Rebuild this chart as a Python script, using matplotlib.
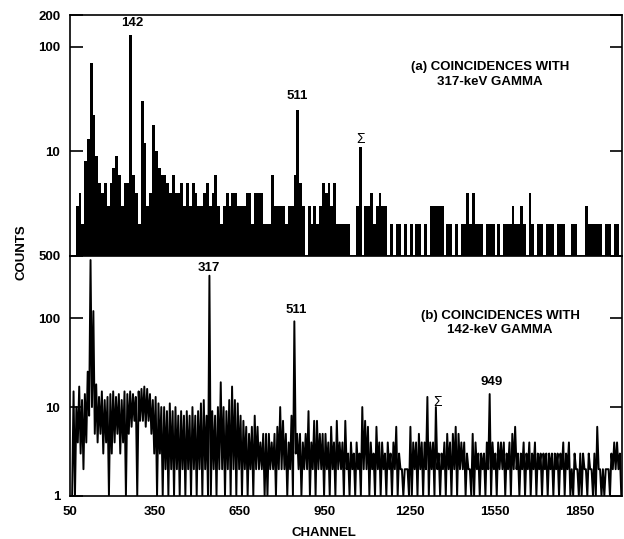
import numpy as np
import matplotlib.pyplot as plt

# change defaults for plotting
plt.rcParams['font.family'] = ['Liberation Sans', 'DejaVu Sans']
plt.rcParams['font.weight'] = 'bold'
plt.rcParams['font.size'] = 9.5
plt.rcParams['axes.linewidth'] = 1.2

# spectra in 10-channel bins, starting at channel 50
first_channel = 50
bin_width = 10

# (a) coincidences with the 317-keV gamma: count in each bin
counts_a = [1, 1, 3, 4, 2, 8, 13, 70, 22, 9,
            5, 4, 5, 3, 5, 7, 9, 6, 3, 5,
            5, 130, 6, 4, 2, 30, 12, 3, 4, 18,
            10, 7, 6, 6, 5, 4, 6, 4, 4, 5,
            3, 5, 3, 5, 4, 3, 3, 4, 5, 3,
            4, 6, 3, 2, 3, 4, 3, 4, 4, 3,
            3, 3, 4, 4, 2, 4, 4, 4, 2, 2,
            2, 6, 3, 3, 3, 3, 2, 3, 3, 6,
            25, 5, 3, 1, 3, 2, 3, 2, 3, 5,
            4, 5, 3, 5, 2, 2, 2, 2, 2, 1,
            1, 3, 11, 1, 3, 3, 4, 2, 3, 4,
            3, 3, 1, 2, 1, 2, 2, 1, 2, 1,
            2, 1, 2, 2, 1, 2, 1, 3, 3, 3,
            3, 3, 1, 2, 2, 1, 2, 1, 2, 2,
            4, 2, 4, 2, 2, 2, 1, 2, 2, 2,
            1, 2, 1, 2, 2, 2, 3, 2, 2, 3,
            2, 1, 4, 2, 1, 2, 2, 1, 2, 2,
            2, 1, 2, 2, 2, 1, 1, 2, 2, 1,
            1, 1, 3, 2, 2, 2, 2, 2, 1, 2,
            2, 1, 2, 2, 1]

# (b) coincidences with the 142-keV gamma: highest and lowest count in each bin
high_b = [1, 15, 10, 17, 12, 14, 25, 450, 120, 18,
          13, 15, 12, 13, 14, 15, 13, 14, 12, 15,
          14, 15, 14, 13, 15, 16, 17, 16, 14, 12,
          13, 11, 10, 10, 9, 11, 9, 10, 8, 9,
          8, 9, 8, 10, 8, 9, 11, 12, 8, 300,
          9, 8, 10, 19, 10, 9, 12, 17, 12, 11,
          8, 7, 6, 5, 6, 8, 6, 4, 5, 5,
          5, 4, 5, 6, 10, 7, 5, 4, 8, 92,
          5, 5, 4, 5, 9, 4, 7, 7, 5, 5,
          5, 4, 6, 4, 7, 4, 4, 7, 3, 4,
          3, 4, 3, 10, 7, 6, 4, 3, 6, 4,
          4, 3, 4, 3, 4, 6, 3, 2, 2, 2,
          6, 4, 4, 5, 4, 4, 13, 4, 4, 10,
          3, 3, 4, 5, 4, 5, 6, 5, 4, 4,
          3, 2, 5, 4, 3, 3, 3, 4, 14, 4,
          3, 4, 4, 4, 3, 4, 5, 6, 3, 3,
          4, 3, 4, 3, 4, 3, 3, 3, 3, 3,
          3, 3, 3, 3, 4, 3, 4, 2, 3, 2,
          3, 3, 2, 3, 2, 3, 6, 2, 2, 2,
          2, 3, 4, 4, 3]
low_b = [1, 1, 4, 3, 2, 4, 8, 10, 5, 4,
         5, 3, 4, 1, 3, 4, 5, 3, 4, 1,
         5, 6, 7, 1, 7, 7, 6, 7, 5, 3,
         1, 3, 1, 2, 1, 2, 1, 2, 1, 2,
         1, 2, 1, 2, 1, 2, 1, 2, 1, 1,
         2, 1, 2, 2, 1, 2, 1, 2, 1, 2,
         1, 2, 1, 2, 1, 2, 2, 2, 1, 1,
         2, 2, 1, 2, 2, 2, 1, 2, 1, 3,
         2, 1, 2, 2, 1, 2, 1, 2, 2, 1,
         2, 1, 2, 1, 2, 2, 1, 2, 1, 2,
         1, 2, 1, 2, 2, 1, 2, 1, 2, 1,
         2, 1, 2, 1, 2, 1, 2, 1, 2, 1,
         1, 2, 1, 2, 1, 2, 1, 2, 1, 2,
         1, 2, 1, 2, 1, 2, 1, 2, 2, 1,
         2, 1, 1, 2, 1, 2, 1, 2, 1, 2,
         1, 2, 2, 1, 2, 1, 2, 2, 1, 2,
         1, 2, 1, 2, 1, 2, 1, 2, 1, 2,
         1, 2, 1, 2, 1, 2, 1, 1, 2, 1,
         1, 2, 1, 2, 1, 1, 2, 1, 1, 2,
         1, 2, 2, 2, 1]

x_ticks = [50, 350, 650, 950, 1250, 1550, 1850]
y_ticks_a = [10, 100, 200]
y_ticks_b = [1, 10, 100, 500]

# peak labels: (text, channel, count)
labels_a = [('142', 269, 168), ('511', 852, 34)]
labels_b = [('317', 541, 362), ('511', 849, 122), ('949', 1541, 19)]
sum_a = (1075, 13)
sum_b = (1347, 11.4)


def setup_axis(ax, top, yticks):
    ax.set_yscale('log')
    ax.set_xlim(50, 2000)
    ax.set_ylim(1, top)
    ax.set_yticks(yticks)
    ax.set_yticklabels([str(t) for t in yticks])
    ax.minorticks_off()
    ax.set_xticks(x_ticks)
    ax.tick_params(axis='y', direction='in', length=9, width=1.2,
                   right=True, pad=7, labelsize=9.5)
    ax.tick_params(axis='x', length=0, pad=7, labelsize=9.5)


def bin_edges(n):
    return first_channel + bin_width*np.arange(n + 1)


fig = plt.figure(figsize=(6.24, 5.39), dpi=100)
ax_a = fig.add_axes([0.1122, 0.5250, 0.8846, 0.4471])
ax_b = fig.add_axes([0.1122, 0.0798, 0.8846, 0.4453])

# panel (a): histogram bars filled from the bottom
setup_axis(ax_a, 200, y_ticks_a)
ax_a.stairs(counts_a, bin_edges(len(counts_a)), baseline=1, fill=True,
            color='black', lw=0)
ax_a.set_xticklabels([])
for text, ch, c in labels_a:
    ax_a.text(ch, c, text, ha='center', va='center', fontsize=9.5)
ax_a.text(sum_a[0], sum_a[1], '\u03a3', ha='center', va='center',
          fontsize=10, fontweight='normal')
ax_a.text(0.761, 0.753, '(a) COINCIDENCES WITH\n317-keV GAMMA',
          transform=ax_a.transAxes, ha='center', va='center',
          multialignment='center', fontsize=9.5, linespacing=1.25)

# panel (b): one stroke up to the high and down to the low count per bin
setup_axis(ax_b, 500, y_ticks_b)
starts = bin_edges(len(high_b))[:-1]
xs = np.column_stack([starts + 2.5, starts + 7.5]).ravel()
ys = np.column_stack([high_b, low_b]).ravel()
ax_b.plot(xs, ys, color='black', lw=1.4)
ax_b.set_xticklabels([str(t) for t in x_ticks])
for text, ch, c in labels_b:
    ax_b.text(ch, c, text, ha='center', va='center', fontsize=9.5)
ax_b.text(sum_b[0], sum_b[1], '\u03a3', ha='center', va='center',
          fontsize=10, fontweight='normal')
ax_b.text(0.779, 0.72, '(b) COINCIDENCES WITH\n142-keV GAMMA',
          transform=ax_b.transAxes, ha='center', va='center',
          multialignment='center', fontsize=9.5, linespacing=1.25)

fig.text(0.519, 0.011, 'CHANNEL', ha='center', va='center', fontsize=9.5)
fig.text(0.034, 1 - 252/539, 'COUNTS', ha='center', va='center',
         rotation=90, fontsize=9.5)

fig.savefig('out.png', dpi=100)
